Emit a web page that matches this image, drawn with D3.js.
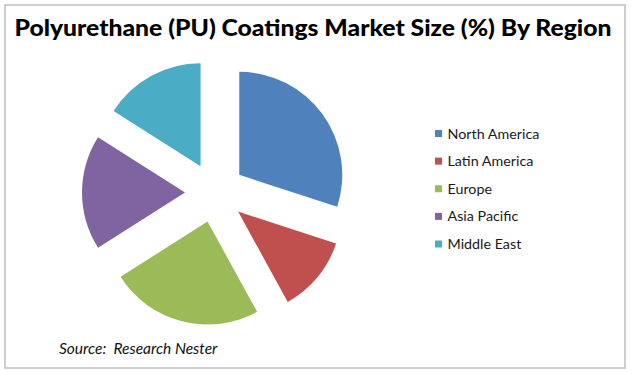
<!DOCTYPE html>
<html>
<head>
<meta charset="utf-8">
<script src="https://cdn.jsdelivr.net/npm/d3@7"></script>
<style>
  body { margin: 0; background: #fff; }
  text { font-family: Lato, "Open Sans", sans-serif; }
</style>
</head>
<body>
<div id="chart"></div>
<script>
var regions = ["North America", "Latin America", "Europe", "Asia Pacific", "Middle East"];
var shares = [30, 12, 24, 18, 16];
var colors = ["#4f81bd", "#c0504d", "#9bbb59", "#8064a2", "#4bacc6"];

var w = 632;
var h = 374;
var cx = 215, cy = 192.5;
var radius = 103;
var explode = 30;

var svg = d3.select("#chart").append("svg")
    .attr("width", w)
    .attr("height", h);

// outer frame
svg.append("rect")
    .attr("x", 5).attr("y", 5)
    .attr("width", 620).attr("height", 363)
    .attr("fill", "#fff")
    .attr("stroke", "#bfbfbf")
    .attr("stroke-width", 1.5);

// title
svg.append("text")
    .attr("x", 313)
    .attr("y", 36)
    .attr("text-anchor", "middle")
    .attr("font-size", 23)
    .attr("font-weight", 900)
    .attr("textLength", 597)
    .attr("lengthAdjust", "spacingAndGlyphs")
    .text("Polyurethane (PU) Coatings Market Size (%) By Region");

var pie = d3.pie().sort(null).value(d => d);
var arc = d3.arc().innerRadius(0).outerRadius(radius);
var arcs = pie(shares);

svg.append("g")
    .attr("transform", `translate(${cx},${cy})`)
    .selectAll("path")
    .data(arcs)
    .enter()
    .append("path")
    .attr("d", arc)
    .attr("fill", (d, i) => colors[i])
    .attr("transform", function(d) {
        var mid = (d.startAngle + d.endAngle) / 2;
        return `translate(${explode * Math.sin(mid)},${-explode * Math.cos(mid)})`;
    });

// legend
var legendY = d3.scalePoint()
    .domain(regions)
    .range([133.5, 244]);

var legend = svg.selectAll("g.legend")
    .data(regions)
    .enter()
    .append("g")
    .attr("class", "legend")
    .attr("transform", d => `translate(435,${legendY(d)})`);

legend.append("rect")
    .attr("x", 0).attr("y", -3.5)
    .attr("width", 7).attr("height", 7)
    .attr("fill", (d, i) => colors[i]);

legend.append("text")
    .attr("x", 12.5)
    .attr("y", 5)
    .attr("font-size", 14.3)
    .attr("fill", "#1a1a1a")
    .text(d => d);

// source note
svg.append("text")
    .attr("x", 59)
    .attr("y", 354)
    .attr("font-size", 15.5)
    .attr("font-style", "italic")
    .attr("fill", "#111")
    .attr("xml:space", "preserve")
    .text("Source:  Research Nester");
</script>
</body>
</html>
